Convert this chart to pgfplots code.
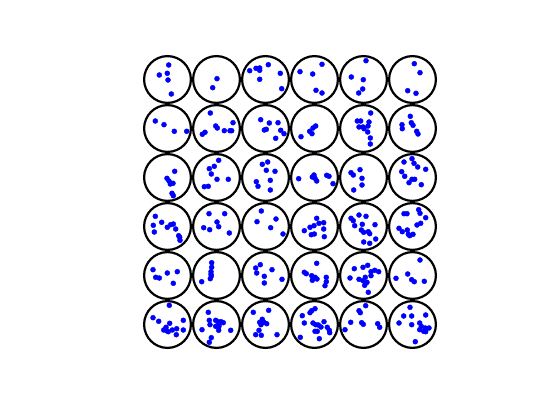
\documentclass[border=0pt]{standalone}
\usepackage{pgfplots}
\pgfplotsset{compat=1.18}
\usepackage{pgfplotstable}
\pgfplotstableread{
x y
167.5 79.5
216.5 79.5
265.5 79.5
314.5 79.5
363.5 79.5
412.5 79.5
167.5 128.5
216.5 128.5
265.5 128.5
314.5 128.5
363.5 128.5
412.5 128.5
167.5 177.5
216.5 177.5
265.5 177.5
314.5 177.5
363.5 177.5
412.5 177.5
167.5 226.5
216.5 226.5
265.5 226.5
314.5 226.5
363.5 226.5
412.5 226.5
167.5 275.5
216.5 275.5
265.5 275.5
314.5 275.5
363.5 275.5
412.5 275.5
167.5 324.5
216.5 324.5
265.5 324.5
314.5 324.5
363.5 324.5
412.5 324.5
}\centers
\pgfplotstableread{
x y
168.7 65
159.3 75
167.3 73.3
168 80
171.3 94
217 78.7
212.7 87.7
249.7 70.7
256 68.3
259.7 68
259.7 70.3
268.3 64.7
280.3 73.3
259.7 79.3
281.7 88.7
300 71.7
322 64.3
312.7 74
316 90.3
322 93
366 60.7
351.3 77
363.3 79.7
362.7 89
358.7 93
414.3 63.7
420 72.7
407.7 90.7
416 93.3
155.3 121
164 124.7
174.3 131.3
186.7 131.3
210.3 113
202.3 134.3
205 132.3
215.7 126
217.3 128
224.3 130.7
230 130.7
231.7 130.7
233 122.7
260.7 119.7
269.3 123
278 122.7
264.3 130
266.3 129.3
280.7 130.3
284 133.7
275.7 138.3
301 136.7
309.7 131.3
312 133.7
313 128
315.7 126
370.7 113
357.3 121
360.7 121
369 122
359 127
364 128.7
368 126
363 127
367.7 132
370.3 138
370.3 144
410.3 116.3
402 124.7
402.3 128.7
411.3 122.7
413 125.3
416.7 131.3
418 134
174.7 171.3
167 178.3
169 181
170.3 184
173 183.3
172 193.3
173.3 195.7
218.7 160.3
214.3 166.3
209.3 168.7
211.3 174
217 179.3
228.3 179.3
204.3 186.7
208.3 186.3
267.7 162
262.3 164.3
266.3 170.3
275 171.3
256.3 181.7
258 186.3
270.3 180.3
270.3 190
298.7 178.7
312.3 177
314 175
315 178.3
316.7 181
326.7 175.3
329 176.3
333 183.7
351 172.7
353.3 175
360 169.7
362 178.3
362 185
353.7 190
412 158.7
414 163.3
404 162
417.7 167
425.7 169.3
401.7 171.7
404.7 176.3
412 179.3
414.7 179.3
409 182.7
421.3 184.7
155.3 216.3
153.3 225.3
154.3 232
161.7 222.3
167.3 227.3
170.7 224.7
173.3 224
175.7 229
178.7 235.7
179.7 237.3
180 240.3
209 213.7
224.7 213.7
217 222
203.7 227.7
209.7 229.7
218.7 226.7
229.3 233
261.3 211
257 221.7
276 219
270.7 227.7
283 234
316.7 218.3
304.3 230.7
310 227.3
314 225.7
319 223.3
323.7 222.7
323.7 229
324.3 236.7
311.3 234.7
314.3 234
351 218.3
353.3 220.7
359 215
366 216.3
375 224.7
354.7 225.7
362.3 224.3
361.3 230
363.7 232.3
368.3 231.7
369.7 233.7
363.7 242
369.7 243.3
375.7 239
404 213.7
407 213.7
418.7 209.7
420 213.3
425.7 217.7
417 225
420.7 223.3
399 228.3
402.3 231.7
407.3 230
408.3 234.3
413 234.3
409.7 235.7
153 269.7
155.7 277.3
159.3 278
167.3 273
177.3 271.7
173.3 283.3
211.7 262.7
211.7 267.3
211 271.7
211 274.3
211.3 276
210.3 278.7
201.7 281.7
260.3 264.7
255.7 268
256.7 273
272 269.7
264.3 276.3
264.3 283
282 279.3
316.7 263.3
304.3 272.3
306.3 273.7
311.7 275.7
312.3 280.3
315 277.3
317 279
326.3 277.3
326.3 281.7
325 285.7
363 267.3
367.7 265.3
354.3 268.7
350 278
359 279.3
365.3 277.3
371 271.7
374.7 270.3
378.7 271.7
371 275.7
366 282.7
364.7 285.3
368.3 292.3
367 282.3
363 280.7
420 260
396 278.3
407.7 274
411.7 279.7
414.3 281.7
424.3 281.3
169.3 305.3
153 317.7
158.7 321.3
169.7 323.3
183.3 320.3
166 327.3
163.7 330
168.3 331.7
172.3 330
176.7 328.7
176.3 334.7
183.3 330
166.7 330.7
208.3 312.3
209.3 320.3
215.7 320.3
218 321.7
221 321.7
223.3 322.7
210 324.7
215.7 326.3
219 325.7
218.7 330.3
218.7 327
202 329.7
230.7 330.3
211.3 337.7
209.3 342.3
253.3 312.3
268.7 310.3
262.3 319.3
259.7 322.3
263.7 322
266.7 323.7
261 324.7
259 330.3
255.7 334.7
261.3 335.3
277 334.7
315 308.7
311.7 310.7
310 312.7
302.3 315.7
304.3 323
313 323
315.7 324.7
324 321.7
318.3 325
321 327
315 331.3
317.3 331.3
327.3 327.3
329.3 330.3
329.7 332.7
300.3 337.3
319.3 338.7
365.7 305.7
359 310.7
360.3 312.7
361.7 322.7
363.3 324.3
350.7 322.3
345 329.7
377.7 323.7
379.7 327.3
410 307.3
403.7 316
411.7 316
411.7 324.7
425.7 315
399 323
419.7 323
421.3 326.3
419.7 329.7
423.7 331.3
425.3 328
429 328
425.7 331.7
415.3 341.7
}\dots
\begin{document}
\begin{tikzpicture}
\begin{axis}[
  scale only axis, width=560pt, height=420pt,
  xmin=0, xmax=560, ymin=0, ymax=420, y dir=reverse,
  hide axis, clip=false,
]
\addplot[only marks, mark=*, mark size=2.5pt, color=blue, mark options={draw=blue, fill=blue}] table {\dots};
\addplot[only marks, mark=o, mark size=23.4pt, mark options={line width=2.2pt, draw=black, fill=none}] table {\centers};
\end{axis}
\path (0,0) rectangle (560pt,420pt);
\end{tikzpicture}
\end{document}
